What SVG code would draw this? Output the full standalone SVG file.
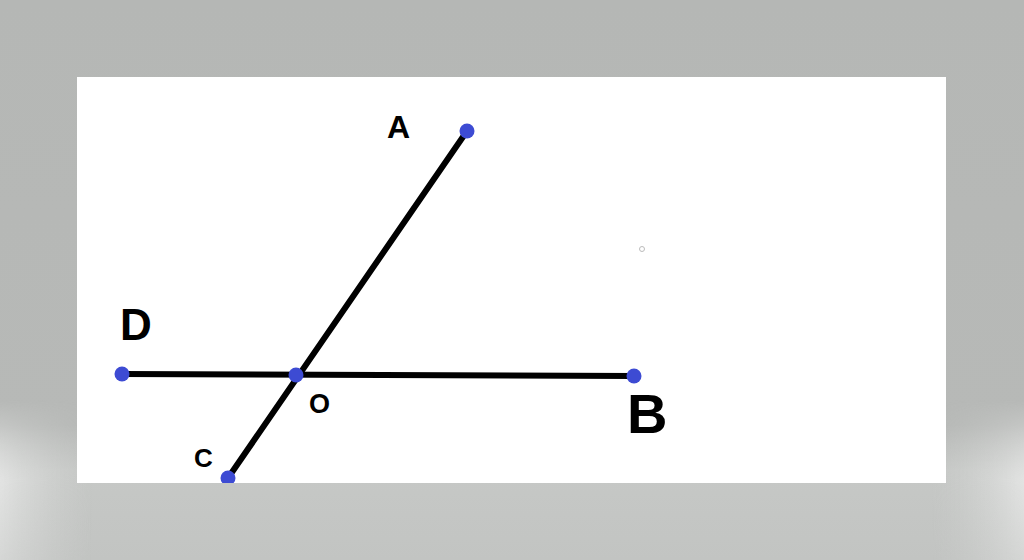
<svg xmlns="http://www.w3.org/2000/svg" width="1024" height="560" viewBox="0 0 1024 560">
<defs>
<linearGradient id="bg" x1="0" y1="0" x2="0" y2="1">
<stop offset="0" stop-color="#b5b7b5"/>
<stop offset="0.76" stop-color="#b7b9b7"/>
<stop offset="0.84" stop-color="#c6c8c6"/>
<stop offset="1" stop-color="#c2c4c2"/>
</linearGradient>
<linearGradient id="side" x1="0" y1="0" x2="1" y2="0">
<stop offset="0" stop-color="#e2e3e2"/>
<stop offset="0.09" stop-color="#d0d2d0" stop-opacity="0"/>
<stop offset="0.91" stop-color="#d0d2d0" stop-opacity="0"/>
<stop offset="1" stop-color="#e2e3e2"/>
</linearGradient>
<linearGradient id="fade" x1="0" y1="0" x2="0" y2="1">
<stop offset="0" stop-color="#fff" stop-opacity="0"/>
<stop offset="0.5" stop-color="#fff" stop-opacity="1"/>
<stop offset="1" stop-color="#fff" stop-opacity="0.6"/>
</linearGradient>
<mask id="fm"><rect x="0" y="400" width="1024" height="160" fill="url(#fade)"/></mask>
<clipPath id="page"><rect x="77" y="77" width="869" height="406"/></clipPath>
<style>
.seg{stroke:#000;stroke-width:6;stroke-linecap:round;fill:none}
.pt{fill:#3d4bd3}
.lbl{font-family:"Liberation Sans",Arial,sans-serif;font-weight:bold;fill:#000}
</style>
</defs>
<rect width="1024" height="560" fill="url(#bg)"/>
<rect x="0" y="400" width="1024" height="160" fill="url(#side)" mask="url(#fm)"/>
<rect x="77" y="77" width="869" height="406" fill="#ffffff"/>
<g clip-path="url(#page)">
<g id="connectors">
<line class="seg" x1="467" y1="131" x2="228" y2="478"/>
<line class="seg" x1="122" y1="374" x2="634" y2="376"/>
</g>
<g id="node-A"><circle class="pt" cx="467" cy="131" r="7.5"/><text class="lbl" x="387" y="138" font-size="32">A</text></g>
<g id="node-D"><circle class="pt" cx="122" cy="374" r="7.5"/><text class="lbl" x="120" y="340" font-size="44">D</text></g>
<g id="node-O"><circle class="pt" cx="296" cy="375" r="7.5"/><text class="lbl" x="309" y="413" font-size="27">O</text></g>
<g id="node-B"><circle class="pt" cx="634" cy="376" r="7.5"/><text class="lbl" x="627" y="433" font-size="56">B</text></g>
<g id="node-C"><circle class="pt" cx="228" cy="478" r="7.5"/><text class="lbl" x="194" y="467" font-size="26">C</text></g>
<circle cx="642" cy="249" r="2.5" fill="none" stroke="#bbbbbb" stroke-width="1"/>
</g>
</svg>
